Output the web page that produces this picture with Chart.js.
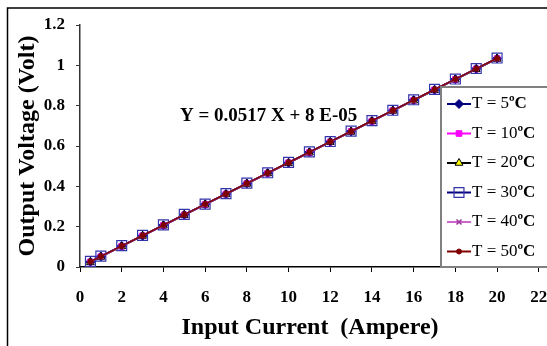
<!DOCTYPE html>
<html>
<head>
<meta charset="utf-8">
<script src="https://cdn.jsdelivr.net/npm/chart.js@4.4.1/dist/chart.umd.min.js"></script>
<style>
  html, body { margin: 0; padding: 0; background: #fff; }
  #wrap { width: 547px; height: 346px; }
</style>
</head>
<body>
<div id="wrap"><canvas id="chart" width="547" height="346"></canvas></div>
<script>
// Input current (A) at which every temperature was measured
const currents = [0.5, 1, 2, 3, 4, 5, 6, 7, 8, 9, 10, 11, 12, 13, 14, 15, 16, 17, 18, 19, 20];

// Output voltage (V) per temperature
const volt5  = [0.026, 0.052, 0.104, 0.155, 0.207, 0.259, 0.311, 0.362, 0.414, 0.466, 0.517, 0.569, 0.621, 0.672, 0.724, 0.776, 0.828, 0.879, 0.931, 0.983, 1.034];
const volt10 = [0.025, 0.051, 0.103, 0.155, 0.206, 0.258, 0.310, 0.362, 0.413, 0.465, 0.517, 0.568, 0.620, 0.672, 0.723, 0.775, 0.827, 0.878, 0.930, 0.982, 1.033];
const volt20 = [0.024, 0.050, 0.102, 0.154, 0.205, 0.257, 0.309, 0.360, 0.412, 0.464, 0.515, 0.567, 0.619, 0.670, 0.722, 0.774, 0.825, 0.877, 0.929, 0.980, 1.032];
const volt30 = [0.028, 0.054, 0.106, 0.157, 0.209, 0.261, 0.312, 0.364, 0.416, 0.467, 0.519, 0.571, 0.622, 0.674, 0.726, 0.777, 0.829, 0.881, 0.932, 0.984, 1.036];
const volt40 = [0.026, 0.052, 0.104, 0.156, 0.207, 0.259, 0.311, 0.362, 0.414, 0.466, 0.517, 0.569, 0.621, 0.672, 0.724, 0.776, 0.828, 0.879, 0.931, 0.983, 1.034];
const volt50 = [0.027, 0.053, 0.105, 0.156, 0.208, 0.260, 0.312, 0.363, 0.415, 0.467, 0.518, 0.570, 0.622, 0.673, 0.725, 0.777, 0.829, 0.880, 0.932, 0.984, 1.035];

const seriesLabels = ["T = 5ºC", "T = 10ºC", "T = 20ºC", "T = 30ºC", "T = 40ºC", "T = 50ºC"];
const seriesValues = [volt5, volt10, volt20, volt30, volt40, volt50];

const fitLabel = "Y = 0.0517 X + 8 E-05";
const xTitle = "Input Current  (Ampere)";
const yTitle = "Output Voltage (Volt)";

const SERIF = "'Liberation Serif', 'Times New Roman', serif";

const styles = [
  { line: "#000080", fill: "#000080", edge: "#000080", shape: "rectRot", r: 4.5, bw: 1 },
  { line: "#ff00ff", fill: "#ff00ff", edge: "#ff00ff", shape: "rect", r: 4, bw: 1 },
  { line: "#000000", fill: "#ffff00", edge: "#000000", shape: "triangle", r: 4.5, bw: 1 },
  { line: "#000080", fill: "rgba(0,0,0,0)", edge: "#3333aa", shape: "rect", r: 7, bw: 1.2 },
  { line: "#cc66cc", fill: "#993399", edge: "#993399", shape: "crossRot", r: 3.5, bw: 1.5 },
  { line: "#800000", fill: "#800000", edge: "#800000", shape: "circle", r: 2.5, bw: 1 },
];

const datasets = seriesValues.map((vals, i) => ({
  label: seriesLabels[i],
  data: vals.map((v, k) => ({ x: currents[k], y: v })),
  borderColor: styles[i].line,
  borderWidth: 1.5,
  backgroundColor: styles[i].fill,
  pointStyle: styles[i].shape,
  pointRadius: styles[i].r,
  pointBorderColor: styles[i].edge,
  pointBackgroundColor: styles[i].fill,
  pointBorderWidth: styles[i].bw,
  fill: false,
  tension: 0,
  order: seriesValues.length - 1 - i,
}));

// frame round the whole picture (only top and left show)
const framePlugin = {
  id: "frame",
  beforeDraw(chart) {
    const c = chart.ctx;
    c.save();
    c.fillStyle = "#fff";
    c.fillRect(0, 0, chart.width, chart.height);
    c.strokeStyle = "#000";
    c.lineWidth = 1.5;
    c.beginPath();
    c.moveTo(7.5, chart.height);
    c.lineTo(7.5, 8);
    c.lineTo(chart.width, 8);
    c.stroke();
    c.restore();
  },
};

function marker(c, st, x, y) {
  c.fillStyle = st.fill;
  c.strokeStyle = st.edge;
  c.lineWidth = st.bw;
  if (Chart.helpers && Chart.helpers.drawPoint) {
    Chart.helpers.drawPoint(c, { pointStyle: st.shape, radius: st.r, rotation: 0, borderWidth: st.bw }, x, y);
  }
}

// titles, fit equation and the boxed legend on the right
const textPlugin = {
  id: "texts",
  afterDraw(chart) {
    const c = chart.ctx;
    c.save();
    c.fillStyle = "#000";
    c.textBaseline = "middle";

    c.font = "bold 24px " + SERIF;
    c.textAlign = "center";
    c.fillText(xTitle, 310, 328);

    c.save();
    c.translate(28, 146);
    c.rotate(-Math.PI / 2);
    c.fillText(yTitle, 0, 0);
    c.restore();

    c.font = "bold 19px " + SERIF;
    c.textAlign = "left";
    c.fillText(fitLabel, 180, 116);

    // legend
    c.fillStyle = "#fff";
    c.fillRect(441, 87, 200, 180);
    c.strokeStyle = "#808080";
    c.lineWidth = 2;
    c.strokeRect(441, 87, 200, 180);
    chart.data.datasets.forEach((ds, i) => {
      const y = 104 + i * 29.5;
      const st = styles[i];
      c.strokeStyle = st.line;
      c.lineWidth = 2;
      c.beginPath();
      c.moveTo(447, y);
      c.lineTo(471, y);
      c.stroke();
      marker(c, st, 459, y);
      const parts = ds.label.split("º");
      c.fillStyle = "#000";
      c.font = "17px " + SERIF;
      c.textAlign = "left";
      c.fillText(parts[0], 472, y);
      const w = c.measureText(parts[0]).width;
      c.font = "bold 17px " + SERIF;
      c.fillText("º" + (parts[1] || ""), 472 + w, y);
    });
    c.restore();
  },
};

const tickFont = { family: SERIF, size: 17, weight: "bold" };

new Chart(document.getElementById("chart"), {
  type: "line",
  data: { datasets },
  options: {
    responsive: false,
    animation: false,
    layout: { padding: { left: 0, top: 25, right: 7, bottom: 0 } },
    plugins: { legend: { display: false }, tooltip: { enabled: false } },
    scales: {
      x: {
        type: "linear",
        min: 0,
        max: 22,
        ticks: { stepSize: 2, color: "#000", font: tickFont, padding: 15, maxRotation: 0 },
        grid: { drawOnChartArea: false, drawTicks: true, tickLength: 5, color: "#000" },
        border: { color: "#000", width: 1.5 },
        afterFit(s) { s.height = 79; s.paddingLeft = 0; s.paddingRight = 0; },
      },
      y: {
        min: 0,
        max: 1.2,
        ticks: {
          stepSize: 0.2,
          color: "#000",
          font: tickFont,
          padding: 11,
          callback: (v) => String(Math.round(v * 10) / 10),
        },
        grid: { drawOnChartArea: false, drawTicks: true, tickLength: 4, color: "#333" },
        border: { color: "#333", width: 1.5 },
        afterFit(s) { s.width = 80; s.paddingTop = 0; s.paddingBottom = 0; },
      },
    },
  },
  plugins: [framePlugin, textPlugin],
});
</script>
</body>
</html>
